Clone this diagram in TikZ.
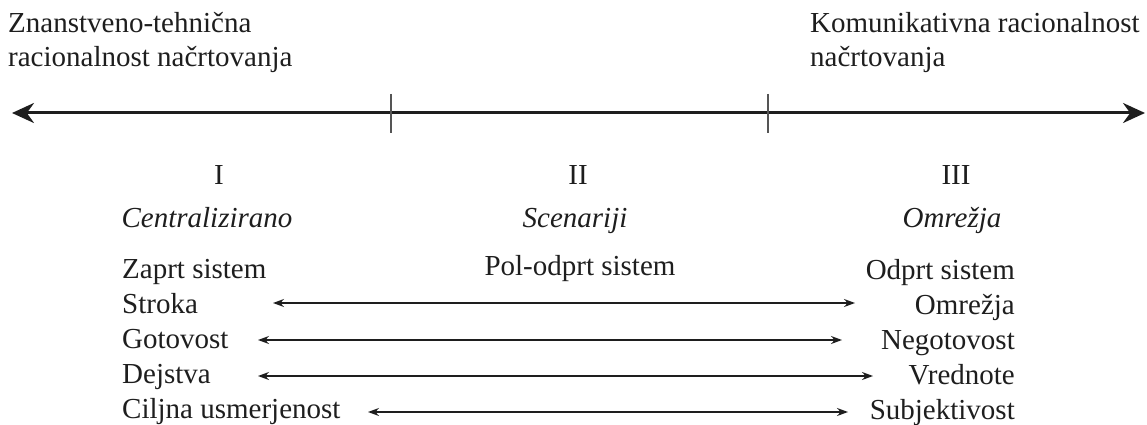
\documentclass[tikz,border=0pt]{standalone}
\usepackage{fontspec}
\setmainfont{Liberation Serif}
\usetikzlibrary{arrows.meta}
\definecolor{ink}{HTML}{1E1E1E}
\definecolor{tickgray}{HTML}{555555}
\tikzset{
  txt/.style={inner sep=0pt, anchor=base west, text=ink, font=\fontsize{29}{35}\selectfont},
  txtc/.style={txt, anchor=base},
  txtr/.style={txt, anchor=base east},
  ital/.style={txtc, font=\fontsize{29}{35}\selectfont\itshape},
  axis/.style={draw=ink, line width=3pt, {Stealth[length=22pt,width=20pt]}-{Stealth[length=22pt,width=20pt]}},
  tick/.style={draw=tickgray, line width=1.6pt},
  pair/.style={draw=ink, line width=1.3pt, {Stealth[length=11pt,width=8pt]}-{Stealth[length=11pt,width=8pt]}}
}
\begin{document}
\begin{tikzpicture}[x=1pt,y=-1pt]
\useasboundingbox (0,0) rectangle (1147,425);
\fill[white] (0,0) rectangle (1147,425);

% headings above the axis
\node[txt] (lt1) at (8,33) {Znanstveno-tehnična};
\node[txt] (lt2) at (8,67) {racionalnost načrtovanja};
\node[txt] (rt1) at (810,33) {Komunikativna racionalnost};
\node[txt] (rt2) at (810,67) {načrtovanja};

% main axis with two division marks
\coordinate (axL) at (12,113);
\coordinate (axR) at (1145,113);
\draw[axis] (axL) -- (axR);
\coordinate (t1a) at (391,94);
\coordinate (t1b) at (391,133);
\coordinate (t2a) at (768,94);
\coordinate (t2b) at (768,133);
\draw[tick] (t1a) -- (t1b);
\draw[tick] (t2a) -- (t2b);

% column headings
\node[txtc] (n1) at (219,184) {I};
\node[txtc] (n2) at (578,184) {II};
\node[txtc] (n3) at (956,184) {III};
\node[ital] (c1) at (207,227) {Centralizirano};
\node[ital] (c2) at (575,227) {Scenariji};
\node[ital] (c3) at (952,227) {Omrežja};

% system type
\node[txt]  (s1) at (122,278) {Zaprt sistem};
\node[txtc] (s2) at (580,275) {Pol-odprt sistem};
\node[txtr] (s3) at (1015,279) {Odprt sistem};

% opposing pairs
\node[txt]  (l1) at (122,313) {Stroka};
\node[txt]  (l2) at (122,348) {Gotovost};
\node[txt]  (l3) at (122,383) {Dejstva};
\node[txt]  (l4) at (122,418) {Ciljna usmerjenost};
\node[txtr] (r1) at (1015,314) {Omrežja};
\node[txtr] (r2) at (1015,349) {Negotovost};
\node[txtr] (r3) at (1015,384) {Vrednote};
\node[txtr] (r4) at (1015,419) {Subjektivost};

\coordinate (a1l) at (273,303);  \coordinate (a1r) at (855,303);
\coordinate (a2l) at (258,340);  \coordinate (a2r) at (842,340);
\coordinate (a3l) at (258,376);  \coordinate (a3r) at (873,376);
\coordinate (a4l) at (368,412);  \coordinate (a4r) at (848,412);
\draw[pair] (a1l) -- (a1r);
\draw[pair] (a2l) -- (a2r);
\draw[pair] (a3l) -- (a3r);
\draw[pair] (a4l) -- (a4r);
\end{tikzpicture}
\end{document}
